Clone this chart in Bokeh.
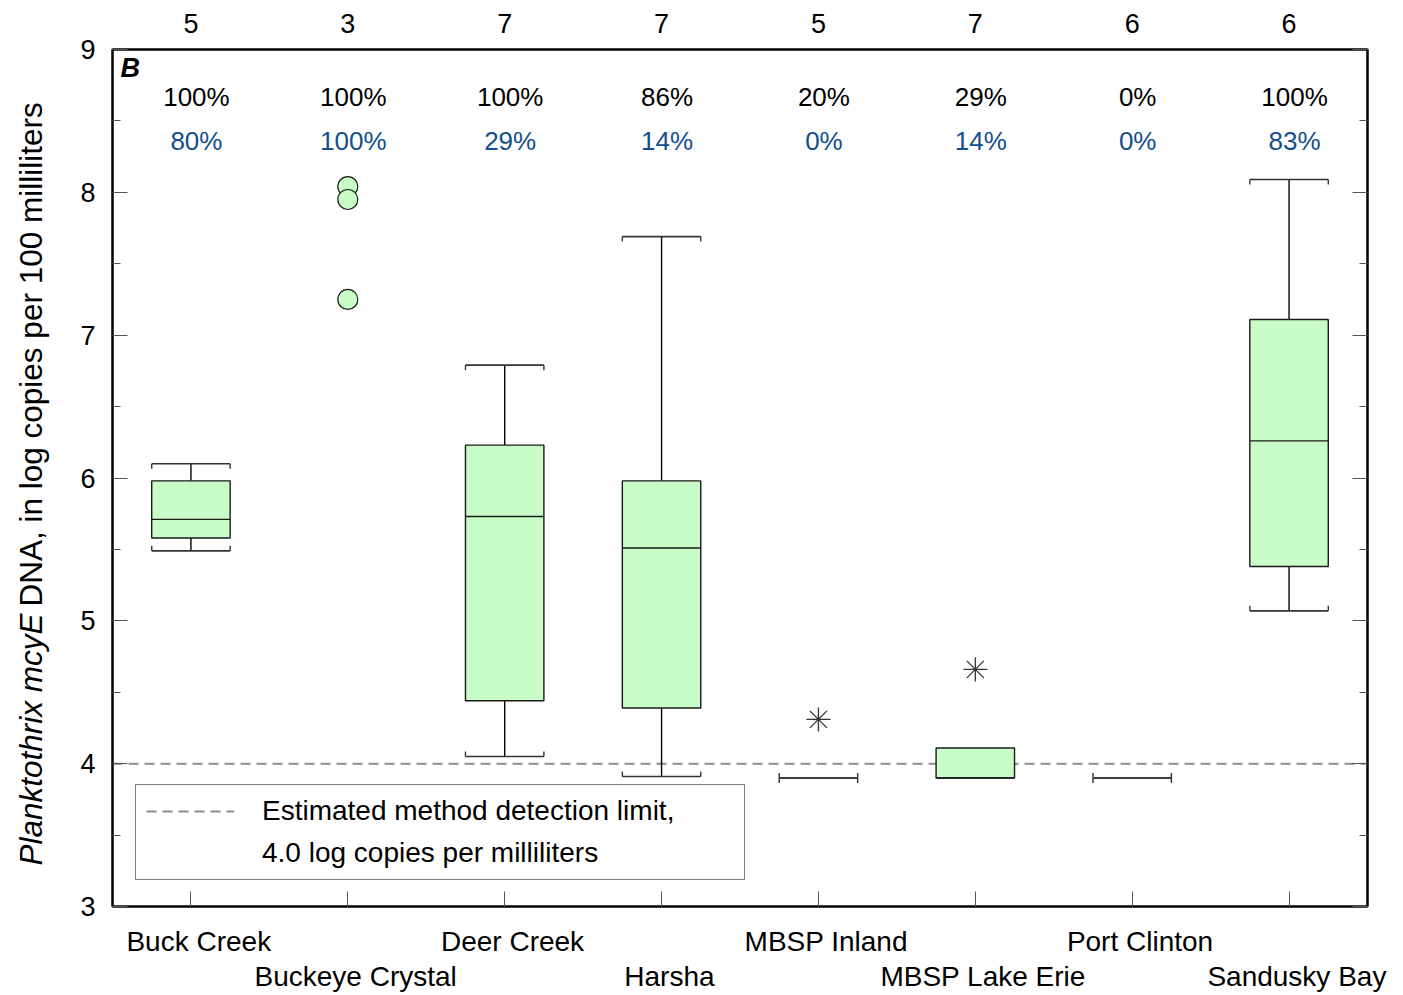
import math

from bokeh.core.properties import value
from bokeh.embed import file_html
from bokeh.layouts import row
from bokeh.models import (FixedTicker, Label, Legend, LegendItem, LinearAxis,
                          Range1d)
from bokeh.plotting import figure
from bokeh.resources import INLINE

nan = float("nan")

# ---- data -------------------------------------------------------------
sites = ["Buck Creek", "Buckeye Crystal", "Deer Creek", "Harsha",
         "MBSP Inland", "MBSP Lake Erie", "Port Clinton", "Sandusky Bay"]
n_samples = [5, 3, 7, 7, 5, 7, 6, 6]
pct_detected = ["100%", "100%", "100%", "86%", "20%", "29%", "0%", "100%"]
pct_quantified = ["80%", "100%", "29%", "14%", "0%", "14%", "0%", "83%"]

whisker_low = [5.49, nan, 4.05, 3.91, 3.90, 3.90, 3.90, 5.07]
quartile_1 = [5.58, nan, 4.44, 4.39, 3.90, 3.90, 3.90, 5.38]
medians = [5.71, nan, 5.73, 5.51, 3.90, 3.90, 3.90, 6.26]
quartile_3 = [5.98, nan, 6.23, 5.98, 3.90, 4.11, 3.90, 7.11]
whisker_high = [6.10, nan, 6.79, 7.69, 3.90, 4.11, 3.90, 8.09]

# sites with too few samples for a box: every value is drawn
point_sites = ["Buckeye Crystal", "Buckeye Crystal", "Buckeye Crystal"]
point_values = [8.04, 7.95, 7.25]

# outside values
outlier_sites = ["MBSP Inland", "MBSP Lake Erie"]
outlier_values = [4.31, 4.66]

detection_limit = 4.0
y_ticks = [3, 4, 5, 6, 7, 8, 9]
y_minor = [3.5, 4.5, 5.5, 6.5, 7.5, 8.5]

# ---- style ------------------------------------------------------------
FONT = "Liberation Sans"
BOX_FILL = "#c8fdc8"
BLUE = "#134f8e"
HALF = 0.25          # half box width, in category units
CAP_TICK = 0.035     # length of the little ends on whisker caps
LABEL_SHIFT = 0.05   # site names sit a little right of the tick
W, H = 1403, 995
TITLE_W = 60         # strip on the left that carries the y axis title

pos = {s: i + 0.5 for i, s in enumerate(sites)}
xc = [pos[s] for s in sites]

p = figure(width=W - TITLE_W, height=H, output_backend="svg", toolbar_location=None,
           x_range=Range1d(0, len(sites)), y_range=Range1d(y_ticks[0], y_ticks[-1]),
           x_axis_location=None, y_axis_location=None,
           min_border_left=112 - TITLE_W, min_border_right=36,
           min_border_top=49, min_border_bottom=89)
p.grid.visible = False
p.outline_line_color = "black"
p.outline_line_width = 2
p.background_fill_color = "white"
p.border_fill_color = "white"

# ---- axes -------------------------------------------------------------
def y_axis(show_labels):
    ax = LinearAxis(ticker=FixedTicker(ticks=y_ticks, minor_ticks=y_minor))
    ax.axis_line_width = 2
    ax.major_tick_in = 15
    ax.major_tick_out = 0
    ax.minor_tick_in = 8
    ax.minor_tick_out = 0
    ax.major_tick_line_color = "#555555"
    ax.minor_tick_line_color = "#555555"
    ax.major_label_text_font = FONT
    ax.major_label_text_font_size = "27px"
    ax.major_label_text_color = "black"
    ax.major_label_standoff = 17
    if not show_labels:
        ax.major_label_overrides = {t: "" for t in y_ticks}
        ax.major_label_standoff = 0
    return ax

p.add_layout(y_axis(True), "left")
p.add_layout(y_axis(False), "right")

# top: number of samples per site
top = LinearAxis(ticker=FixedTicker(ticks=xc, minor_ticks=[]))
top.major_label_overrides = {x: str(n) for x, n in zip(xc, n_samples)}
top.axis_line_width = 2
top.major_tick_in = 0
top.major_tick_out = 0
top.major_label_text_font = FONT
top.major_label_text_font_size = "27px"
top.major_label_text_color = "black"
top.major_label_standoff = 17
p.add_layout(top, "above")

# bottom: tick marks only
bottom = LinearAxis(ticker=FixedTicker(ticks=xc, minor_ticks=[]))
bottom.major_label_overrides = {x: "" for x in xc}
bottom.axis_line_width = 2
bottom.major_tick_in = 15
bottom.major_tick_out = 0
bottom.major_tick_line_color = "#555555"
bottom.major_label_standoff = 0
bottom.major_label_text_font_size = "1px"
p.add_layout(bottom, "below")

# bottom: staggered site names
def name_axis(idx, standoff):
    ticks = [xc[i] + LABEL_SHIFT for i in idx]
    ax = LinearAxis(ticker=FixedTicker(ticks=ticks, minor_ticks=[]))
    ax.major_label_overrides = {t: sites[i] for t, i in zip(ticks, idx)}
    ax.axis_line_color = None
    ax.major_tick_line_color = None
    ax.minor_tick_line_color = None
    ax.major_label_text_font = FONT
    ax.major_label_text_font_size = "28px"
    ax.major_label_text_color = "black"
    ax.major_label_standoff = standoff
    return ax

p.add_layout(name_axis(range(0, len(sites), 2), 13), "below")
p.add_layout(name_axis(range(1, len(sites), 2), -5), "below")

# ---- boxes ------------------------------------------------------------
bx, bq1, bq3, bmed = [], [], [], []
wx0, wy0, wy1 = [], [], []
cx0, cx1, cy = [], [], []
tx, ty0, ty1 = [], [], []
for x, lo, a, m, b, hi in zip(xc, whisker_low, quartile_1, medians,
                              quartile_3, whisker_high):
    if math.isnan(m):
        continue
    has_box = b > a
    if has_box:
        bx.append(x); bq1.append(a); bq3.append(b); bmed.append(m)
    if hi > b:
        wx0.append(x); wy0.append(b); wy1.append(hi)
    if lo < a:
        wx0.append(x); wy0.append(lo); wy1.append(a)
    if hi > b or not has_box:
        cx0.append(x - HALF); cx1.append(x + HALF); cy.append(hi)
        for ex in (x - HALF, x + HALF):
            tx.append(ex); ty0.append(hi); ty1.append(hi - CAP_TICK)
    if lo < a or not has_box:
        cx0.append(x - HALF); cx1.append(x + HALF); cy.append(lo)
        for ex in (x - HALF, x + HALF):
            tx.append(ex); ty0.append(lo); ty1.append(lo + CAP_TICK)

p.segment(x0=wx0, x1=wx0, y0=wy0, y1=wy1, line_color="black", line_width=1.4)
p.segment(x0=cx0, x1=cx1, y0=cy, y1=cy, line_color="#333333", line_width=1.6)
p.segment(x0=tx, x1=tx, y0=ty0, y1=ty1, line_color="#333333", line_width=1.4)
p.vbar(x=bx, width=2 * HALF, bottom=bq1, top=bq3, fill_color=BOX_FILL,
       line_color="#1a1a1a", line_width=1.4)
p.segment(x0=[x - HALF for x in bx], x1=[x + HALF for x in bx], y0=bmed, y1=bmed,
          line_color="#1a1a1a", line_width=1.4)

# individual values and outside values
p.scatter(x=[pos[s] for s in point_sites], y=point_values, marker="circle",
          size=20, fill_color=BOX_FILL, line_color="#1a1a1a", line_width=1.2)
p.scatter(x=[pos[s] for s in outlier_sites], y=outlier_values, marker="asterisk",
          size=24, line_color="#333333", line_width=1.3)

# detection limit
limit_r = p.segment(x0=[0], x1=[len(sites)], y0=[detection_limit], y1=[detection_limit],
                    line_color="#8c8c8c", line_width=2, line_dash="10 6")
limit_r.level = "underlay"
blank_r = p.segment(x0=[], x1=[], y0=[], y1=[], line_alpha=0)

# percentages above each site
p.text(x=[x + 0.035 for x in xc], y=[8.67] * len(sites), text=pct_detected,
       text_font=value(FONT), text_font_size="26px", text_color="black",
       text_align="center", text_baseline="middle")
p.text(x=[x + 0.035 for x in xc], y=[8.36] * len(sites), text=pct_quantified,
       text_font=value(FONT), text_font_size="26px", text_color=BLUE,
       text_align="center", text_baseline="middle")

# panel letter
p.add_layout(Label(x=8, y=839, x_units="screen", y_units="screen", text="B",
                   text_font=FONT, text_font_size="27px", text_font_style="bold italic",
                   text_color="black", text_baseline="middle", text_align="left"))

# legend
legend = Legend(items=[
    LegendItem(label="Estimated method detection limit,", renderers=[limit_r]),
    LegendItem(label="4.0 log copies per milliliters", renderers=[blank_r]),
], location=(23, 26))
legend.label_text_font = FONT
legend.label_text_font_size = "28px"
legend.label_text_color = "black"
legend.glyph_width = 88
legend.glyph_height = 20
legend.label_standoff = 28
legend.label_width = 472
legend.label_height = 31
legend.padding = 10
legend.spacing = 10
legend.margin = 0
legend.border_line_color = "black"
legend.border_line_width = 1
legend.background_fill_alpha = 1
p.add_layout(legend)

# ---- y axis title strip (part of the title is set in italics) ---------
# the strip's frame lines up with the main frame, so y is measured from
# the bottom of the value axis
t = figure(width=TITLE_W, height=H, output_backend="svg", toolbar_location=None,
           x_axis_location=None, y_axis_location=None,
           min_border=0, x_range=Range1d(0, 1), y_range=Range1d(0, 1))
t.grid.visible = False
t.outline_line_color = None
t.background_fill_color = "white"
t.border_fill_color = "white"
t.add_layout(Label(x=30, y=41, x_units="screen", y_units="screen",
                   text="Planktothrix mcyE", angle=math.pi / 2,
                   text_font=FONT, text_font_size="31.5px", text_font_style="italic",
                   text_color="black", text_align="left", text_baseline="middle"))
t.add_layout(Label(x=30, y=300, x_units="screen", y_units="screen",
                   text="DNA, in log copies per 100 milliliters", angle=math.pi / 2,
                   text_font=FONT, text_font_size="31.5px",
                   text_color="black", text_align="left", text_baseline="middle"))

layout = row(t, p, spacing=0)
open("out.html", "w").write(file_html(layout, INLINE))
